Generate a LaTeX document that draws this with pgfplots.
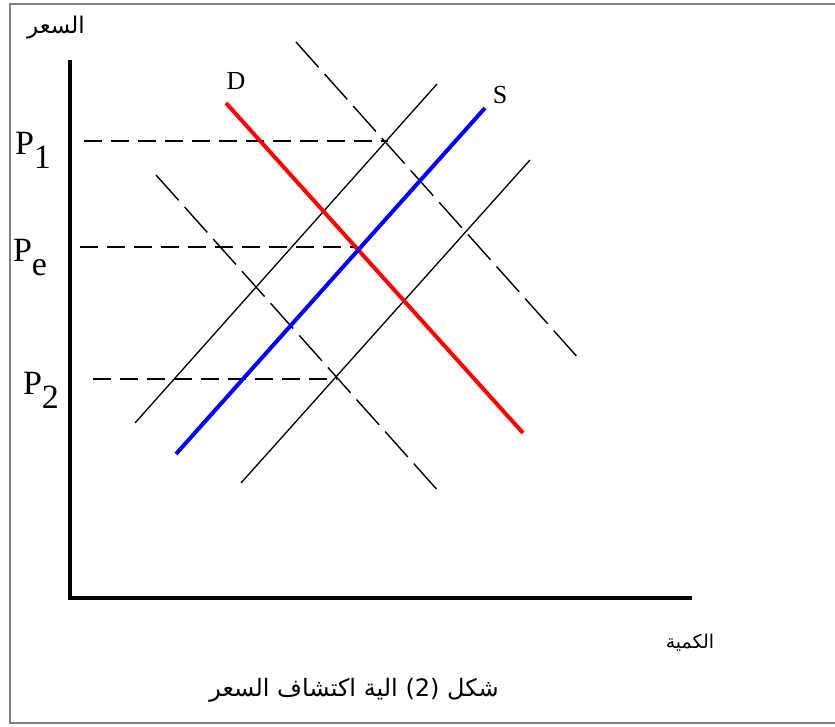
\documentclass[border=0pt]{standalone}
\usepackage{pgfplots}
\pgfplotsset{compat=1.18}
\usepackage{fontspec}
\setmainfont{Liberation Serif}
\newfontfamily\arabicfont[Script=Arabic]{DejaVu Sans}
\TeXXeTstate=1
\newcommand\Plab[1]{P\raisebox{-0.9ex}{#1}}
\begin{document}
\begin{tikzpicture}
\begin{axis}[scale only axis, width=835pt, height=726pt, anchor=south west, at={(0pt,0pt)},
  xmin=0, xmax=835, ymin=0, ymax=726, axis lines=none, clip=false]
% frame
\addplot[gray, line width=2pt] coordinates {(835,722) (10,722) (10,3) (835,3)};
% axes
\addplot[black, line width=4pt] coordinates {(70,666) (70,128) (692,128)};
% horizontal dashed price lines
\addplot[black, line width=1.6pt, dash pattern=on 18pt off 9pt] coordinates {(84,585) (388,585)};
\addplot[black, line width=1.6pt, dash pattern=on 18pt off 9pt] coordinates {(80,479) (358,479)};
\addplot[black, line width=1.6pt, dash pattern=on 18pt off 9pt] coordinates {(93,347) (337,347)};
% shifted demand curves (dashed)
\addplot[black, line width=1.4pt, dash pattern=on 34pt off 9pt] coordinates {(296,684) (580,366)};
\addplot[black, line width=1.4pt, dash pattern=on 34pt off 9pt] coordinates {(156,551) (440,233)};
% shifted supply curves (solid)
\addplot[black, line width=1.3pt] coordinates {(135,303) (437,642)};
\addplot[black, line width=1.3pt] coordinates {(241,243) (530,566)};
% demand D
\addplot[red, line width=4pt] coordinates {(226,623) (523,293)};
% supply S
\addplot[blue, line width=4pt] coordinates {(176,272) (485,618)};
% labels
\node[font=\fontsize{26}{26}\selectfont] at (236,645) {D};
\node[font=\fontsize{26}{26}\selectfont] at (500,631) {S};
\node[font=\fontsize{34}{34}\selectfont] at (33,576) {\Plab{1}};
\node[font=\fontsize{34}{34}\selectfont] at (30,468) {\Plab{e}};
\node[font=\fontsize{34}{34}\selectfont] at (41,336) {\Plab{2}};
\node[font=\fontsize{23}{26}\selectfont\arabicfont] at (56,698) {\beginR السعر\endR};
\node[font=\fontsize{19}{22}\selectfont\arabicfont] at (690,83) {\beginR الكمية\endR};
\node[font=\fontsize{24}{28}\selectfont\arabicfont] at (354,36) {\beginR شكل (2)  الية اكتشاف السعر\endR};
\end{axis}
\pgfresetboundingbox
\useasboundingbox (0pt,0pt) rectangle (835pt,726pt);
\end{tikzpicture}
\end{document}
